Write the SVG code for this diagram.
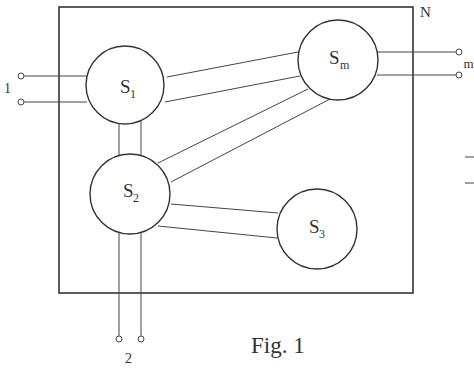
<svg xmlns="http://www.w3.org/2000/svg" width="474" height="368" viewBox="0 0 474 368">
<style>
.frame{fill:none;stroke:#333;stroke-width:1.6}
.node{fill:#fff;stroke:#333;stroke-width:1.4}
.wire{fill:none;stroke:#444;stroke-width:1}
.term{fill:#fff;stroke:#444;stroke-width:1}
.lbl{font-family:"Liberation Serif",serif;fill:#333}
.sub{font-family:"Liberation Serif",serif;fill:#333;font-size:12px}
</style>
<rect width="474" height="368" fill="#fff"/>
<rect id="frame" class="frame" x="59" y="7" width="354" height="286"/>
<g id="connectors">
  <line class="wire" x1="24" y1="76" x2="87" y2="76"/>
  <line class="wire" x1="24" y1="102" x2="87" y2="102"/>
  <line class="wire" x1="167" y1="77" x2="298" y2="52"/>
  <line class="wire" x1="165" y1="102" x2="300" y2="76"/>
  <line class="wire" x1="158" y1="163" x2="308" y2="89"/>
  <line class="wire" x1="171" y1="182" x2="330" y2="99"/>
  <line class="wire" x1="171" y1="204" x2="278" y2="213"/>
  <line class="wire" x1="158" y1="226" x2="277" y2="238"/>
  <line class="wire" x1="119" y1="123" x2="119" y2="156"/>
  <line class="wire" x1="141" y1="120" x2="141" y2="156"/>
  <line class="wire" x1="119" y1="232" x2="119" y2="336"/>
  <line class="wire" x1="141" y1="232" x2="141" y2="336"/>
  <line class="wire" x1="377" y1="52" x2="456" y2="52"/>
  <line class="wire" x1="377" y1="75" x2="456" y2="75"/>
  <line class="wire" x1="465" y1="157" x2="474" y2="157"/>
  <line class="wire" x1="465" y1="183" x2="474" y2="183"/>
</g>
<g id="terminals">
  <circle class="term" cx="21" cy="76" r="3"/>
  <circle class="term" cx="21" cy="102" r="3"/>
  <circle class="term" cx="459" cy="52" r="3"/>
  <circle class="term" cx="459" cy="75" r="3"/>
  <circle class="term" cx="119" cy="339" r="3"/>
  <circle class="term" cx="141" cy="339" r="3"/>
</g>
<g id="S1">
  <circle class="node" cx="125" cy="85" r="39"/>
  <text class="lbl" x="120" y="93" font-size="19">S</text><text class="sub" x="130" y="98">1</text>
</g>
<g id="Sm">
  <circle class="node" cx="338" cy="60" r="40"/>
  <text class="lbl" x="329" y="64" font-size="19">S</text><text class="sub" x="340" y="69">m</text>
</g>
<g id="S2">
  <circle class="node" cx="130" cy="194" r="40"/>
  <text class="lbl" x="123" y="197" font-size="19">S</text><text class="sub" x="133" y="202">2</text>
</g>
<g id="S3">
  <circle class="node" cx="317" cy="229" r="40"/>
  <text class="lbl" x="309" y="233" font-size="19">S</text><text class="sub" x="319" y="238">3</text>
</g>
<g id="labels">
  <text class="lbl" x="4" y="93" font-size="14">1</text>
  <text class="lbl" x="125" y="363" font-size="14">2</text>
  <text class="lbl" x="420" y="17" font-size="15">N</text>
  <text class="lbl" x="463.5" y="68" font-size="13">m</text>
  <text class="lbl" x="251" y="353" font-size="23">Fig. 1</text>
</g>
</svg>
